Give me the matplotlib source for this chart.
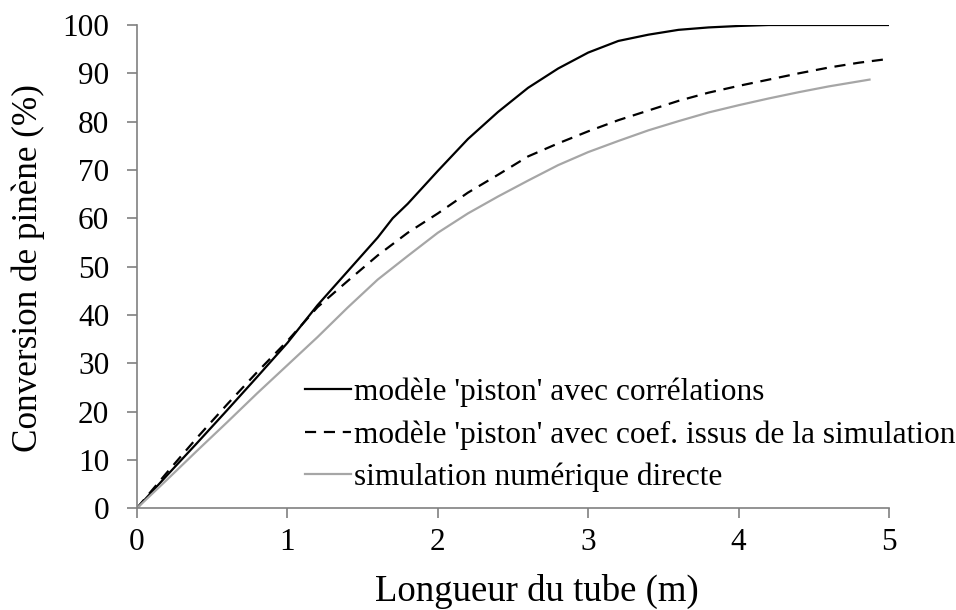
import matplotlib.pyplot as plt

# Longueur du tube (m) et conversion (%)
x_corr = [0, 0.2, 0.4, 0.6, 0.8, 1.0, 1.2, 1.4, 1.6, 1.7, 1.8, 2.0, 2.2, 2.4, 2.6,
          2.8, 3.0, 3.2, 3.4, 3.6, 3.8, 4.0, 4.2, 4.5, 5.0]
y_corr = [0, 6.8, 13.5, 20.3, 27.2, 34.2, 42.0, 49.0, 56.0, 60.0, 63.0, 69.8, 76.4,
          82.0, 87.0, 91.0, 94.3, 96.7, 98.0, 99.0, 99.5, 99.8, 100, 100, 100]

x_coef = [0, 0.2, 0.4, 0.6, 0.8, 1.0, 1.2, 1.4, 1.6, 1.8, 2.0, 2.2, 2.4, 2.6, 2.8,
          3.0, 3.2, 3.4, 3.6, 3.8, 4.0, 4.2, 4.4, 4.6, 4.8, 5.0]
y_coef = [0, 7.4, 14.6, 21.5, 28.2, 34.6, 41.6, 47.0, 52.3, 57.0, 61.0, 65.3, 69.0,
          72.8, 75.5, 78.0, 80.3, 82.3, 84.3, 86.0, 87.4, 88.7, 90.0, 91.2, 92.2, 93.0]

x_sim = [0, 0.2, 0.4, 0.6, 0.8, 1.0, 1.2, 1.4, 1.6, 1.8, 2.0, 2.2, 2.4, 2.6, 2.8,
         3.0, 3.2, 3.4, 3.6, 3.8, 4.0, 4.2, 4.4, 4.6, 4.87]
y_sim = [0, 5.9, 11.9, 17.8, 23.8, 29.6, 35.4, 41.5, 47.3, 52.2, 57.0, 61.0, 64.5,
         67.8, 71.0, 73.7, 76.0, 78.2, 80.1, 81.9, 83.4, 84.8, 86.1, 87.3, 88.7]

labels = ["modèle 'piston' avec corrélations",
          "modèle 'piston' avec coef. issus de la simulation",
          "simulation numérique directe"]

plt.rcParams['font.family'] = ['Liberation Serif', 'DejaVu Serif']

fig = plt.figure(figsize=(9.56, 6.10), dpi=100)
ax = fig.add_axes([0.1433, 0.167, 0.7867, 0.792])

ax.plot(x_corr, y_corr, color='black', lw=1.6, label=labels[0])
ax.plot(x_coef, y_coef, color='black', lw=1.6, ls=(0, (5, 3.5)), label=labels[1])
ax.plot(x_sim, y_sim, color='#a6a6a6', lw=1.6, label=labels[2])

ax.set_xlim(0, 5)
ax.set_ylim(0, 100)
ax.set_xticks(range(0, 6))
ax.set_yticks(range(0, 101, 10))

for side in ['top', 'right']:
    ax.spines[side].set_visible(False)
for side in ['left', 'bottom']:
    ax.spines[side].set_color('#808080')
    ax.spines[side].set_linewidth(1.2)
ax.tick_params(axis='both', direction='out', length=7, width=1.2, color='#808080',
               labelsize=22.5, labelcolor='black')
ax.tick_params(axis='x', pad=7)
ax.tick_params(axis='y', pad=13)

ax.set_xlabel('Longueur du tube (m)', fontsize=26.5)
ax.xaxis.set_label_coords(0.532, -0.136)
ax.set_ylabel('Conversion de pinène (%)', fontsize=25.3)
ax.yaxis.set_label_coords(-0.122, 0.497)

ax.legend(loc='upper left', bbox_to_anchor=(0.319, 0.381), bbox_transform=fig.transFigure,
          frameon=False, fontsize=22.6, handlelength=1.47, handletextpad=0.1,
          labelspacing=0.42, borderpad=0, borderaxespad=0)

fig.savefig('out.png', dpi=100)
